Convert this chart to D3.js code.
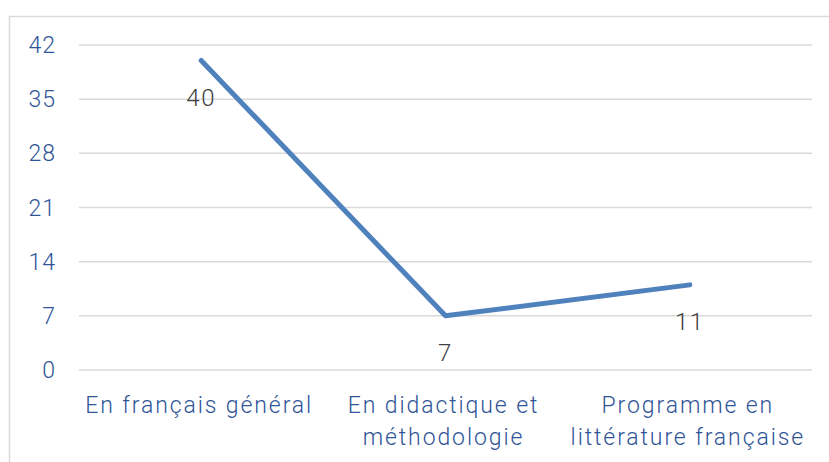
<!DOCTYPE html>
<html lang="fr">
<head>
    <meta charset="UTF-8">
    <title>Chart</title>
    <script src="https://cdn.jsdelivr.net/npm/d3@7"></script>
    <style>
        body { margin: 0; background: #fff; }
        svg { display: block; }
        text { font-family: Roboto, "DejaVu Sans", sans-serif; font-weight: 300; }
        .tick-y { fill: #2f5597; font-size: 23px; letter-spacing: 1px; }
        .tick-x { fill: #2f5597; font-size: 23px; letter-spacing: 1.9px; }
        .value { fill: #404040; font-size: 24px; letter-spacing: 1.5px; }
    </style>
</head>
<body>
<svg width="829" height="462"></svg>
<script>
    // data
    var categories = ['En français général', 'En didactique et\nméthodologie', 'Programme en\nlittérature française'];
    var values = [40, 7, 11];
    var yTicks = [0, 7, 14, 21, 28, 35, 42];

    var svg = d3.select('svg');
    var margin = {left: 79, right: 17, top: 45, bottom: 92};
    var W = 829, H = 462;

    // outer border of the chart area
    svg.append('rect')
        .attr('x', 9.5).attr('y', 16.5)
        .attr('width', 840).attr('height', 460)
        .attr('fill', 'none')
        .attr('stroke', '#d9d9d9')
        .attr('stroke-width', 1.5);

    var x = d3.scaleBand()
        .domain(categories)
        .range([margin.left, W - margin.right]);

    var y = d3.scaleLinear()
        .domain([0, 42])
        .range([H - margin.bottom, margin.top]);

    // gridlines
    svg.append('g')
        .selectAll('line')
        .data(yTicks)
        .enter().append('line')
        .attr('x1', margin.left)
        .attr('x2', W - margin.right)
        .attr('y1', function (d) { return y(d); })
        .attr('y2', function (d) { return y(d); })
        .attr('stroke', '#d9d9d9')
        .attr('stroke-width', 1.5);

    // y tick labels
    svg.append('g')
        .selectAll('text')
        .data(yTicks)
        .enter().append('text')
        .attr('class', 'tick-y')
        .attr('x', 56)
        .attr('y', function (d) { return y(d); })
        .attr('dy', '0.35em')
        .attr('text-anchor', 'end')
        .text(function (d) { return d; });

    // x labels (multi line)
    var xl = svg.append('g')
        .selectAll('text')
        .data(categories)
        .enter().append('text')
        .attr('class', 'tick-x')
        .attr('text-anchor', 'middle')
        .attr('transform', function (d) {
            return 'translate(' + (x(d) + x.bandwidth() / 2 - 2) + ',' + 413 + ')';
        });
    xl.selectAll('tspan')
        .data(function (d) { return d.split('\n'); })
        .enter().append('tspan')
        .attr('x', 0)
        .attr('y', function (d, i) { return i * 32; })
        .text(function (d) { return d; });

    var pts = categories.map(function (c, i) {
        return {c: c, v: values[i]};
    });

    // line
    svg.append('path')
        .datum(pts)
        .attr('fill', 'none')
        .attr('stroke', '#4f81bd')
        .attr('stroke-width', 5)
        .attr('stroke-linecap', 'round')
        .attr('stroke-linejoin', 'round')
        .attr('d', d3.line()
            .x(function (d) { return x(d.c) + x.bandwidth() / 2; })
            .y(function (d) { return y(d.v); }));

    // data labels
    svg.append('g')
        .selectAll('text')
        .data(pts)
        .enter().append('text')
        .attr('class', 'value')
        .attr('text-anchor', 'middle')
        .attr('x', function (d) { return x(d.c) + x.bandwidth() / 2; })
        .attr('y', function (d) { return y(d.v) + 37; })
        .attr('dy', '0.35em')
        .text(function (d) { return d.v; });
</script>
</body>
</html>
